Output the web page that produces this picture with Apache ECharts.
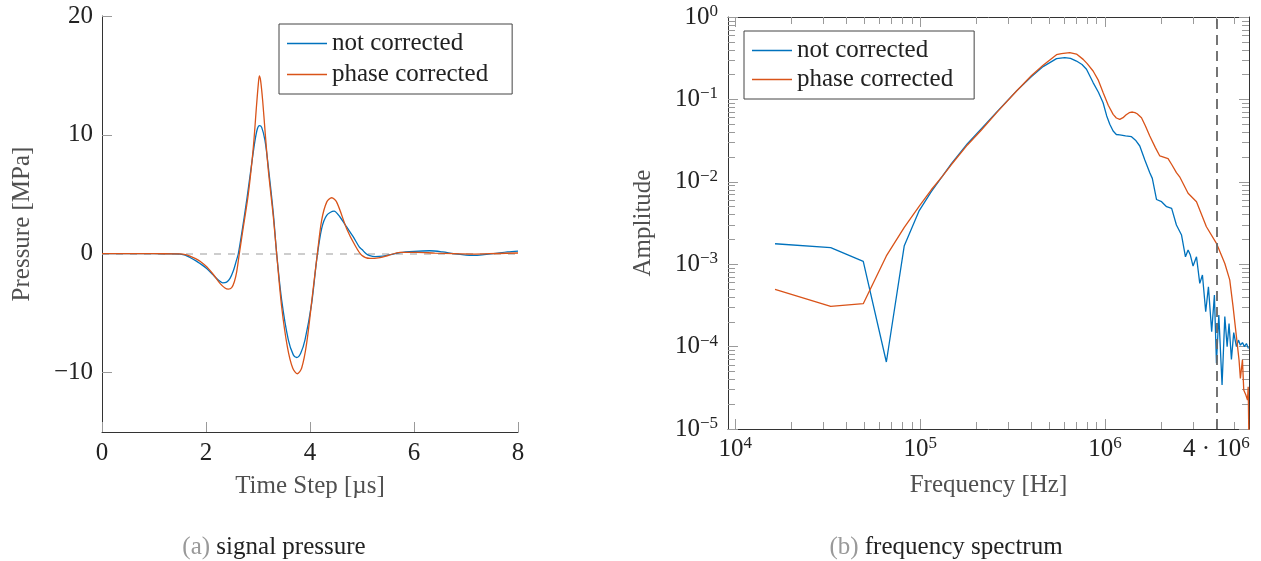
<!DOCTYPE html>
<html>
<head>
<meta charset="utf-8">
<script src="https://cdn.jsdelivr.net/npm/echarts@6/dist/echarts.min.js"></script>
<style>
  html, body { margin: 0; padding: 0; background: #fff; }
  #chart { width: 1261px; height: 561px; }
</style>
</head>
<body>
<div id="chart"></div>
<script>
// ---- (a) signal pressure: time [µs] / pressure [MPa] ----
const timeNotCorrected = [0, 1.0, 1.4, 1.5, 1.6, 1.692, 1.8, 1.885, 2.013, 2.141, 2.237, 2.321, 2.397, 2.462, 2.526, 2.577, 2.622, 2.686, 2.782, 2.878, 2.942, 2.987, 3.026, 3.071, 3.135, 3.199, 3.295, 3.359, 3.455, 3.583, 3.679, 3.744, 3.821, 3.904, 4.032, 4.128, 4.224, 4.321, 4.462, 4.577, 4.705, 4.833, 4.95, 5.0, 5.08, 5.15, 5.25, 5.4, 5.55, 5.73, 6.0, 6.3, 6.55, 6.76, 7.0, 7.15, 7.35, 7.53, 7.8, 8.0];
const pressureNotCorrected = [0, 0, -0.01, -0.03, -0.12, -0.32, -0.58, -0.82, -1.24, -1.80, -2.22, -2.45, -2.39, -2.08, -1.44, -0.69, 0.01, 1.69, 4.48, 7.56, 9.51, 10.49, 10.77, 10.63, 9.51, 7.28, 3.37, 0.01, -3.90, -7.25, -8.51, -8.73, -8.37, -7.25, -4.18, -0.54, 2.11, 3.23, 3.59, 3.09, 2.25, 1.41, 0.55, 0.35, 0.0, -0.16, -0.24, -0.2, -0.08, 0.1, 0.2, 0.25, 0.15, 0.0, -0.12, -0.14, -0.08, 0.0, 0.15, 0.22];

const timePhaseCorrected = [0, 1.0, 1.4, 1.5, 1.6, 1.692, 1.8, 1.885, 2.013, 2.141, 2.269, 2.365, 2.429, 2.494, 2.545, 2.59, 2.641, 2.718, 2.814, 2.91, 2.974, 3.006, 3.026, 3.051, 3.09, 3.135, 3.199, 3.295, 3.359, 3.455, 3.564, 3.667, 3.756, 3.84, 3.936, 4.051, 4.141, 4.224, 4.321, 4.417, 4.513, 4.705, 4.865, 4.994, 5.154, 5.346, 5.5, 5.73, 6.05, 6.4, 6.76, 7.17, 7.6, 8.0];
const pressurePhaseCorrected = [0, 0, -0.01, -0.02, -0.08, -0.21, -0.42, -0.63, -1.10, -1.75, -2.50, -2.89, -2.98, -2.86, -2.36, -1.52, 0.01, 2.25, 5.04, 8.95, 12.59, 14.27, 14.96, 14.54, 12.87, 10.35, 7.0, 3.09, 0, -4.46, -7.81, -9.62, -10.10, -9.62, -7.53, -3.34, 0, 2.81, 4.34, 4.71, 4.34, 2.11, 0.71, -0.13, -0.40, -0.32, -0.15, 0.12, 0.12, 0.05, 0.0, -0.03, 0.02, 0.06];

// ---- (b) frequency spectrum: frequency [Hz] / amplitude ----
const freqNotCorrected = [16400, 32800, 49200, 65600, 82000, 98400, 114800, 131000, 147500, 180000, 213000, 262000, 332000, 400000, 462000, 546000, 605000, 650000, 700000, 750000, 793000, 861000, 920000, 975000, 1020000, 1060000, 1105000, 1150000, 1200000, 1290000, 1389000, 1460000, 1540000, 1640000, 1744000, 1800000, 1896000, 2020000, 2150000, 2290000, 2430000, 2590000, 2720000, 2810000, 2890000, 2990000, 3120000, 3250000, 3360000, 3500000, 3620000, 3770000, 3900000, 4000000, 4120000, 4290000, 4440000, 4570000, 4680000, 4820000, 4960000, 5130000, 5260000, 5390000, 5530000, 5670000, 5810000, 5960000];
const ampNotCorrected = [1.77e-3, 1.59e-3, 1.08e-3, 6.5e-5, 1.68e-3, 4.4e-3, 7.6e-3, 1.15e-2, 1.66e-2, 2.9e-2, 4.35e-2, 7.2e-2, 1.27e-1, 1.9e-1, 2.5e-1, 3.12e-1, 3.21e-1, 3.15e-1, 2.92e-1, 2.65e-1, 2.32e-1, 1.6e-1, 1.22e-1, 9.1e-2, 6.3e-2, 5.0e-2, 4.14e-2, 3.75e-2, 3.7e-2, 3.6e-2, 3.53e-2, 3.2e-2, 2.72e-2, 1.84e-2, 1.29e-2, 1.1e-2, 6.1e-3, 5.74e-3, 4.99e-3, 4.76e-3, 2.99e-3, 2.26e-3, 1.23e-3, 1.49e-3, 1.29e-3, 9.5e-4, 1.23e-3, 5.86e-4, 7.4e-4, 2.65e-4, 5.33e-4, 1.52e-4, 4.23e-4, 6.27e-5, 2.42e-4, 3.42e-5, 2.31e-4, 1.0e-4, 1.91e-4, 7.0e-5, 1.48e-4, 1.0e-4, 1.2e-4, 1.04e-4, 1.12e-4, 1.0e-4, 1.09e-4, 9.5e-5];

const freqPhaseCorrected = [16400, 32800, 49200, 65600, 82000, 98400, 114800, 131000, 147500, 180000, 213000, 262000, 332000, 400000, 462000, 546000, 580000, 644000, 700000, 761000, 800000, 861000, 920000, 975000, 1040000, 1105000, 1150000, 1200000, 1250000, 1300000, 1350000, 1406000, 1450000, 1490000, 1573000, 1650000, 1744000, 1870000, 1976000, 2190000, 2300000, 2430000, 2530000, 2810000, 3120000, 3530000, 4000000, 4440000, 4720000, 4920000, 5130000, 5300000, 5390000, 5530000, 5620000, 5770000, 5890000, 5940000, 6000000];
const ampPhaseCorrected = [4.95e-4, 3.08e-4, 3.32e-4, 1.26e-3, 2.8e-3, 5.0e-3, 8.0e-3, 1.15e-2, 1.62e-2, 2.8e-2, 4.2e-2, 7.1e-2, 1.265e-1, 1.95e-1, 2.6e-1, 3.49e-1, 3.6e-1, 3.69e-1, 3.55e-1, 3.06e-1, 2.72e-1, 2.21e-1, 1.7e-1, 1.21e-1, 8.5e-2, 6.59e-2, 5.95e-2, 5.73e-2, 6.0e-2, 6.5e-2, 6.9e-2, 7.03e-2, 6.9e-2, 6.7e-2, 6.0e-2, 4.8e-2, 3.6e-2, 2.6e-2, 2.06e-2, 1.91e-2, 1.6e-2, 1.29e-2, 1.15e-2, 7.25e-3, 5.74e-3, 2.85e-3, 1.79e-3, 1.02e-3, 6.45e-4, 3.05e-4, 1.32e-4, 6.87e-5, 4.12e-5, 6.9e-5, 2.97e-5, 2.59e-5, 2.25e-5, 3.26e-5, 6e-6];

// ---- axis ticks ----
const timeTicks = [0, 2, 4, 6, 8];
const pressureTicks = [-10, 0, 10, 20];
const freqLabelTicks = [1e4, 1e5, 1e6, 4e6];
const freqMajorTicks = [1e4, 1e5, 1e6];
const freqMinorTicks = [2e4, 3e4, 4e4, 5e4, 6e4, 7e4, 8e4, 9e4, 2e5, 3e5, 4e5, 5e5, 6e5, 7e5, 8e5, 9e5, 2e6, 3e6, 4e6, 5e6];
const ampMajorTicks = [1e-5, 1e-4, 1e-3, 1e-2, 1e-1, 1];
const ampMinorTicks = [2e-5, 3e-5, 4e-5, 5e-5, 6e-5, 7e-5, 8e-5, 9e-5, 2e-4, 3e-4, 4e-4, 5e-4, 6e-4, 7e-4, 8e-4, 9e-4, 2e-3, 3e-3, 4e-3, 5e-3, 6e-3, 7e-3, 8e-3, 9e-3, 2e-2, 3e-2, 4e-2, 5e-2, 6e-2, 7e-2, 8e-2, 9e-2, 2e-1, 3e-1, 4e-1, 5e-1, 6e-1, 7e-1, 8e-1, 9e-1];
const cutoffFrequency = 4e6;

const seriesNames = ['not corrected', 'phase corrected'];
const captionA = ['(a)', 'signal pressure'];
const captionB = ['(b)', 'frequency spectrum'];

// ---- styling ----
const FONT = 'Liberation Serif';
const FS = 25;
const BLUE = '#0072BD';
const ORANGE = '#D95319';
const TEXT = '#222';
const NAME = '#505050';
const TICK = '#9a9a9a';
const AXIS = '#333';

const zip = (xs, ys) => xs.map((x, i) => [x, ys[i]]);
const minus = (n) => (n < 0 ? '\u2212' + Math.abs(n) : String(n));

function powerLabel(v) {
  const e = Math.floor(Math.log10(v) + 1e-9);
  const m = Math.round(v / Math.pow(10, e));
  const pow = '10{sup|' + minus(e) + '}';
  return m === 1 ? pow : m + ' \u00B7 ' + pow;
}

const labelRich = {
  sup: { fontFamily: FONT, fontSize: 17, color: TEXT, verticalAlign: 'top', lineHeight: 17 }
};

const FREQ_MIN = 9130, FREQ_MAX = 6.0e6;
const AMP_MIN = 1e-5, AMP_MAX = 1;

function logAxis(extra) {
  return Object.assign({
    gridIndex: 1,
    type: 'log',
    logBase: 10,
    splitLine: { show: false },
    axisLine: { show: false },
    axisLabel: { show: false },
    axisTick: { show: false }
  }, extra);
}

function caption(center, parts) {
  return {
    left: center, top: 530, textAlign: 'center',
    text: '{a|' + parts[0] + '} {b|' + parts[1] + '}',
    textStyle: {
      fontWeight: 'normal', fontFamily: FONT, fontSize: FS,
      rich: {
        a: { fontFamily: FONT, fontSize: FS, fontWeight: 'normal', color: '#999' },
        b: { fontFamily: FONT, fontSize: FS, fontWeight: 'normal', color: TEXT }
      }
    }
  };
}

function legendBox(left, top, padding, gap) {
  return {
    data: seriesNames, orient: 'vertical', left: left, top: top,
    padding: padding, itemGap: gap, itemWidth: 40, itemHeight: 1.3, icon: 'rect',
    borderColor: '#444', borderWidth: 1, backgroundColor: '#fff',
    selectedMode: false,
    textStyle: { fontFamily: FONT, fontSize: FS, color: TEXT, lineHeight: 25 }
  };
}

const chart = echarts.init(document.getElementById('chart'), null, { renderer: 'canvas' });

const option = {
  animation: false,
  backgroundColor: '#fff',
  textStyle: { fontFamily: FONT },
  grid: [
    { left: 102, top: 16, width: 416, height: 416, outerBoundsMode: 'none', containLabel: false },
    { left: 728, top: 17, width: 521, height: 412, outerBoundsMode: 'none', containLabel: false }
  ],
  title: [caption(269, captionA), caption(941, captionB)],
  legend: [
    legendBox(279, 24, [7, 24, 7, 8], 6),
    legendBox(744, 31, [7, 21, 7, 8], 4)
  ],
  xAxis: [
    {
      gridIndex: 0, type: 'value', min: 0, max: 8, interval: 2,
      splitLine: { show: false },
      axisLine: { show: true, onZero: false, lineStyle: { color: AXIS, width: 1 } },
      axisTick: { show: true, inside: true, length: 10, customValues: timeTicks, lineStyle: { color: TICK } },
      axisLabel: { margin: 9, fontFamily: FONT, fontSize: FS, color: TEXT, customValues: timeTicks },
      name: 'Time Step [\u00B5s]', nameLocation: 'middle', nameGap: 42,
      nameTextStyle: { fontFamily: FONT, fontSize: FS, color: NAME }
    },
    logAxis({
      position: 'bottom', min: FREQ_MIN, max: FREQ_MAX,
      axisLine: { show: true, onZero: false, lineStyle: { color: AXIS, width: 1 } },
      axisTick: { show: true, inside: true, length: 10, customValues: freqMajorTicks, lineStyle: { color: TICK } },
      axisLabel: { show: true, margin: 6, fontFamily: FONT, fontSize: FS, color: TEXT, lineHeight: 28,
        customValues: freqLabelTicks, formatter: powerLabel, rich: labelRich },
      name: 'Frequency [Hz]', nameLocation: 'middle', nameGap: 44,
      nameTextStyle: { fontFamily: FONT, fontSize: FS, color: NAME }
    }),
    logAxis({
      position: 'bottom', min: FREQ_MIN, max: FREQ_MAX,
      axisTick: { show: true, inside: true, length: 7, customValues: freqMinorTicks, lineStyle: { color: TICK } }
    }),
    logAxis({
      position: 'top', min: FREQ_MIN, max: FREQ_MAX,
      axisLine: { show: true, onZero: false, lineStyle: { color: AXIS, width: 1 } },
      axisTick: { show: true, inside: true, length: 10, customValues: freqMajorTicks, lineStyle: { color: TICK } }
    }),
    logAxis({
      position: 'top', min: FREQ_MIN, max: FREQ_MAX,
      axisTick: { show: true, inside: true, length: 7, customValues: freqMinorTicks, lineStyle: { color: TICK } }
    })
  ],
  yAxis: [
    {
      gridIndex: 0, type: 'value', min: -15, max: 20,
      splitLine: { show: false },
      axisLine: { show: true, onZero: false, lineStyle: { color: AXIS, width: 1 } },
      axisTick: { show: true, inside: true, length: 10, customValues: pressureTicks, lineStyle: { color: TICK } },
      axisLabel: { margin: 9, fontFamily: FONT, fontSize: FS, color: TEXT, customValues: pressureTicks, formatter: minus },
      name: 'Pressure [MPa]', nameLocation: 'middle', nameGap: 67,
      nameTextStyle: { fontFamily: FONT, fontSize: FS, color: NAME }
    },
    logAxis({
      position: 'left', min: AMP_MIN, max: AMP_MAX,
      axisLine: { show: true, onZero: false, lineStyle: { color: AXIS, width: 1 } },
      axisTick: { show: true, inside: true, length: 10, customValues: ampMajorTicks, lineStyle: { color: TICK } },
      axisLabel: { show: true, margin: 10, fontFamily: FONT, fontSize: FS, color: TEXT, lineHeight: 28,
        customValues: ampMajorTicks, formatter: powerLabel, rich: labelRich },
      name: 'Amplitude', nameLocation: 'middle', nameGap: 72,
      nameTextStyle: { fontFamily: FONT, fontSize: FS, color: NAME }
    }),
    logAxis({
      position: 'left', min: AMP_MIN, max: AMP_MAX,
      axisTick: { show: true, inside: true, length: 7, customValues: ampMinorTicks, lineStyle: { color: TICK } }
    }),
    logAxis({
      position: 'right', min: AMP_MIN, max: AMP_MAX,
      axisLine: { show: true, onZero: false, lineStyle: { color: AXIS, width: 1 } },
      axisTick: { show: true, inside: true, length: 10, customValues: ampMajorTicks, lineStyle: { color: TICK } }
    }),
    logAxis({
      position: 'right', min: AMP_MIN, max: AMP_MAX,
      axisTick: { show: true, inside: true, length: 7, customValues: ampMinorTicks, lineStyle: { color: TICK } }
    })
  ],
  series: [
    {
      name: seriesNames[0], type: 'line', xAxisIndex: 0, yAxisIndex: 0,
      data: zip(timeNotCorrected, pressureNotCorrected),
      symbol: 'none', showSymbol: false, smooth: 0.3,
      lineStyle: { color: BLUE, width: 1.3 }, itemStyle: { color: BLUE },
      markLine: {
        silent: true, symbol: 'none', label: { show: false }, z: 1,
        lineStyle: { color: '#bdbdbd', type: [7, 7], width: 1.5 },
        data: [{ yAxis: 0 }]
      }
    },
    {
      name: seriesNames[1], type: 'line', xAxisIndex: 0, yAxisIndex: 0,
      data: zip(timePhaseCorrected, pressurePhaseCorrected),
      symbol: 'none', showSymbol: false, smooth: 0.3,
      lineStyle: { color: ORANGE, width: 1.3 }, itemStyle: { color: ORANGE }
    },
    {
      name: seriesNames[0], type: 'line', xAxisIndex: 1, yAxisIndex: 1,
      data: zip(freqNotCorrected, ampNotCorrected),
      symbol: 'none', showSymbol: false,
      lineStyle: { color: BLUE, width: 1.3 }, itemStyle: { color: BLUE }
    },
    {
      name: seriesNames[1], type: 'line', xAxisIndex: 1, yAxisIndex: 1,
      data: zip(freqPhaseCorrected, ampPhaseCorrected),
      symbol: 'none', showSymbol: false,
      lineStyle: { color: ORANGE, width: 1.3 }, itemStyle: { color: ORANGE },
      markLine: {
        silent: true, symbol: 'none', label: { show: false },
        lineStyle: { color: '#666', type: [10, 6], width: 1.8 },
        data: [{ xAxis: cutoffFrequency }]
      }
    }
  ]
};

chart.setOption(option);
</script>
</body>
</html>
